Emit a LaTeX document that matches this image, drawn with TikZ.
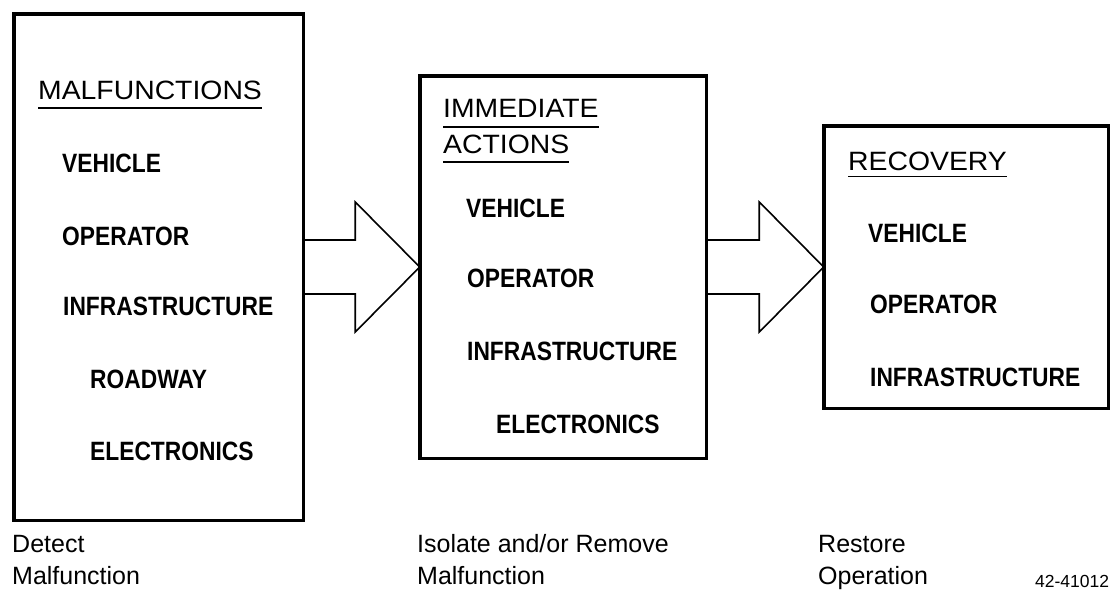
\documentclass[tikz,border=0pt]{standalone}
\usepackage{fontspec}
\setmainfont{Liberation Sans}
\newfontfamily\itemfont[FakeStretch=0.86]{Liberation Sans}
\newfontfamily\headfont[FakeStretch=1.07]{Liberation Sans}
\usetikzlibrary{calc}
\begin{document}
\begin{tikzpicture}[x=1pt,y=-1pt,
  box/.style={draw,line width=3.5pt,rectangle,inner sep=0pt,outer sep=0pt},
  head/.style={anchor=base west,inner sep=0pt,font=\headfont\fontsize{26.5}{30}\selectfont},
  item/.style={anchor=base west,inner sep=0pt,font=\itemfont\bfseries\fontsize{26.5}{30}\selectfont},
  captext/.style={anchor=base west,inner sep=0pt,font=\fontsize{25}{28}\selectfont},
  uline/.style={line width=1.4pt},
  arr/.style={line width=1.6pt,line join=miter}]
\useasboundingbox[fill=white] (0,0) rectangle (1117,590);
% boxes
\node[box,minimum width=289.5pt,minimum height=506.5pt] (b1) at (158.5,267) {};
\node[box,minimum width=286.5pt,minimum height=382.5pt] (b2) at (563,267) {};
\node[box,minimum width=284.5pt,minimum height=282.5pt] (b3) at (966,267) {};
% arrows
\draw[arr] ($(b1.east)+(0,-27)$) -- ($(b1.east)+(52,-27)$) -- ($(b1.east)+(52,-65)$)
  -- (b2.west) -- ($(b1.east)+(52,65)$) -- ($(b1.east)+(52,27)$) -- ($(b1.east)+(0,27)$);
\draw[arr] ($(b2.east)+(0,-27)$) -- ($(b2.east)+(53,-27)$) -- ($(b2.east)+(53,-65)$)
  -- (b3.west) -- ($(b2.east)+(53,65)$) -- ($(b2.east)+(53,27)$) -- ($(b2.east)+(0,27)$);
% box 1 text
\node[head] (h1) at (38,99) {MALFUNCTIONS};
\draw[uline] ($(h1.base west)+(0,9)$) -- ($(h1.base east)+(0,9)$);
\node[item] (v1) at (62,172) {VEHICLE};
\node[item] (o1) at (62,245) {OPERATOR};
\node[item] (i1) at (63,315) {INFRASTRUCTURE};
\node[item] (r1) at (90,388) {ROADWAY};
\node[item] (e1) at (90,460) {ELECTRONICS};
% box 2 text
\node[head] (h2a) at (443,117) {IMMEDIATE};
\draw[uline] ($(h2a.base west)+(0,10)$) -- ($(h2a.base east)+(0,10)$);
\node[head] (h2b) at (443,153) {ACTIONS};
\draw[uline] ($(h2b.base west)+(0,9)$) -- ($(h2b.base east)+(0,9)$);
\node[item] (v2) at (466,217) {VEHICLE};
\node[item] (o2) at (467,287) {OPERATOR};
\node[item] (i2) at (467,360) {INFRASTRUCTURE};
\node[item] (e2) at (496,433) {ELECTRONICS};
% box 3 text
\node[head] (h3) at (848,170) {RECOVERY};
\draw[uline] ($(h3.base west)+(0,6.5)$) -- ($(h3.base east)+(0,6.5)$);
\node[item] (v3) at (868,242) {VEHICLE};
\node[item] (o3) at (870,313) {OPERATOR};
\node[item] (i3) at (870,386) {INFRASTRUCTURE};
% captions
\node[captext] (c1a) at (12,552) {Detect};
\node[captext] (c1b) at (12,584) {Malfunction};
\node[captext] (c2a) at (417,552) {Isolate and/or Remove};
\node[captext] (c2b) at (417,584) {Malfunction};
\node[captext] (c3a) at (818,552) {Restore};
\node[captext] (c3b) at (818,584) {Operation};
\node[anchor=base west,inner sep=0pt,font=\fontsize{17.5}{20}\selectfont] (id) at (1035,587) {42-41012};
\end{tikzpicture}
\end{document}
